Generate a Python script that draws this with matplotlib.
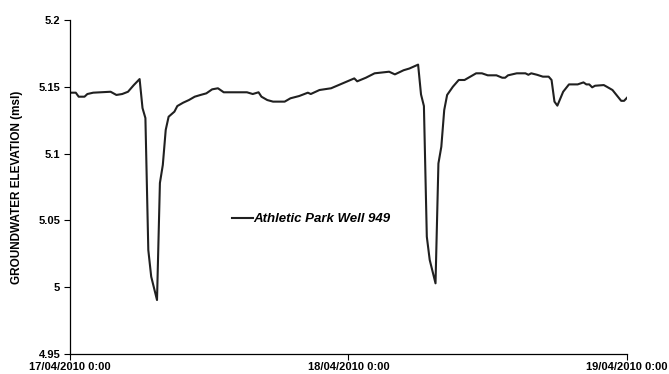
import matplotlib
matplotlib.use("Agg")
import matplotlib.pyplot as plt
import pandas as pd

# Hours since 17/04/2010 00:00 and groundwater level (m above msl)
hours = [
    0.0, 0.5, 0.75, 1.25, 1.5, 2.0, 3.5, 4.0, 4.5, 5.0, 5.5, 6.0,
    6.25, 6.5, 6.75, 7.0, 7.5, 7.75, 8.0, 8.25, 8.5, 9.0, 9.25, 9.75,
    10.25, 10.75, 11.25, 11.75, 12.25, 12.75, 13.25, 15.25, 15.75, 16.25,
    16.5, 17.0, 17.5, 18.5, 19.0, 19.75, 20.5, 20.75, 21.5, 22.5, 23.5,
    24.5, 24.75, 25.5, 26.25, 27.5, 28.0, 28.75, 29.25, 30.0,
    30.25, 30.5, 30.75, 31.0, 31.5, 31.75, 32.0, 32.25, 32.5, 33.0, 33.5,
    34.0, 35.0, 35.5, 36.0, 36.75, 37.25, 37.5, 37.75, 38.5, 39.25, 39.5,
    39.75, 40.25, 40.75, 41.25, 41.5, 41.75, 42.0, 42.5, 43.0, 43.75,
    44.25, 44.5, 44.75, 45.0, 45.25, 46.0, 46.25, 46.75, 47.5, 47.75, 48.0,
]
level = [
    5.1456, 5.1456, 5.1426, 5.1426, 5.1446, 5.1456, 5.1463, 5.1439, 5.1446,
    5.1463, 5.1513, 5.1558,
    5.1341, 5.1266, 5.0278, 5.0079, 4.9904, 5.0780, 5.0915, 5.1177, 5.1276,
    5.1314, 5.1356, 5.1381,
    5.1401, 5.1426, 5.1439, 5.1451, 5.1481, 5.1489, 5.1459, 5.1459, 5.1446,
    5.1459,
    5.1426, 5.1401, 5.1389, 5.1389, 5.1414, 5.1431, 5.1456, 5.1446, 5.1476,
    5.1489, 5.1526,
    5.1563, 5.1541, 5.1568, 5.1601, 5.1613, 5.1593, 5.1624, 5.1637, 5.1666,
    5.1443, 5.1356, 5.0378, 5.0204, 5.0029, 5.0926, 5.1051, 5.1326, 5.1439,
    5.1501, 5.1551,
    5.1551, 5.1601, 5.1601, 5.1586, 5.1586, 5.1568, 5.1568, 5.1586, 5.1601,
    5.1601, 5.1590,
    5.1601, 5.1590, 5.1576, 5.1576, 5.1551, 5.1389, 5.1359, 5.1463, 5.1518,
    5.1518,
    5.1533, 5.1518, 5.1518, 5.1496, 5.1508, 5.1513, 5.1501, 5.1476, 5.1395,
    5.1395, 5.1418,
]

start = pd.Timestamp("2010-04-17 00:00")
times = start + pd.to_timedelta(hours, unit="h")

tick_times = [pd.Timestamp("2010-04-17"), pd.Timestamp("2010-04-18"),
              pd.Timestamp("2010-04-19")]
tick_labels = ["17/04/2010 0:00", "18/04/2010 0:00", "19/04/2010 0:00"]
y_ticks = [4.95, 5.0, 5.05, 5.1, 5.15, 5.2]
y_tick_labels = ["4.95", "5", "5.05", "5.1", "5.15", "5.2"]

plt.rcParams["font.family"] = ["Liberation Sans", "DejaVu Sans"]

fig = plt.figure(figsize=(6.69, 3.74), dpi=100)
ax = fig.add_axes([0.1046, 0.0535, 0.8326, 0.893])

ax.plot(times, level, color="#202020", linewidth=1.5,
        label="Athletic Park Well 949")

ax.set_xlim(tick_times[0], tick_times[-1])
ax.set_ylim(4.95, 5.2)
ax.set_xticks(tick_times)
ax.set_xticklabels(tick_labels, fontsize=8, fontweight="bold")
ax.set_yticks(y_ticks)
ax.set_yticklabels(y_tick_labels, fontsize=8, fontweight="bold")
ax.tick_params(axis="both", direction="out", length=4, width=0.8,
               color="black", pad=3)
ax.tick_params(axis="x", pad=1.5)

for side in ("top", "right"):
    ax.spines[side].set_visible(False)
for side in ("left", "bottom"):
    ax.spines[side].set_linewidth(0.9)
    ax.spines[side].set_color("black")

ax.set_ylabel("GROUNDWATER ELEVATION (msl)", fontsize=8.5,
              fontweight="bold", labelpad=11)

leg = ax.legend(loc="center left", bbox_to_anchor=(0.269, 0.404),
                frameon=False, handlelength=1.6, handletextpad=0.05,
                prop={"size": 9.5, "weight": "bold", "style": "italic"})

fig.savefig("out.png", dpi=100)
